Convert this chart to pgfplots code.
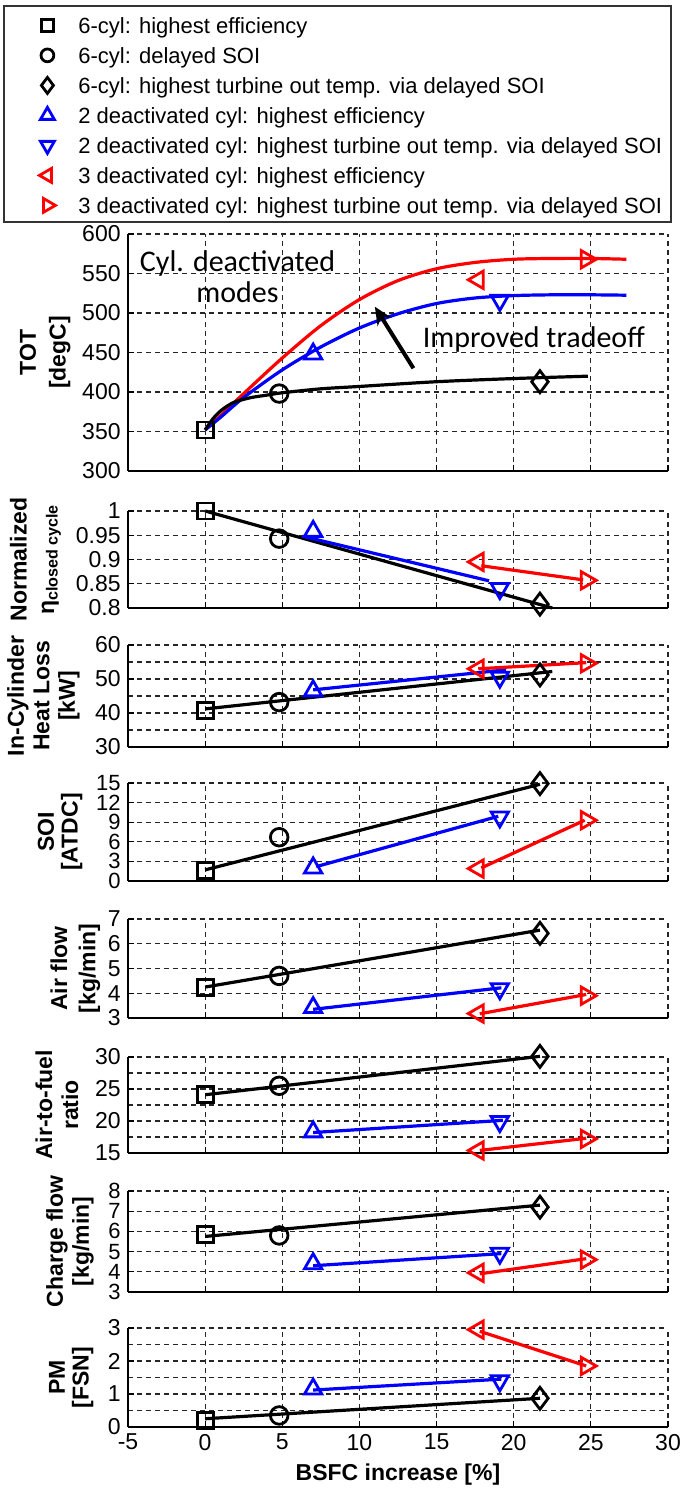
\documentclass[border=0pt]{standalone}
\usepackage{fontspec}
\setmainfont{Liberation Sans}
\newfontfamily\carlito{Carlito}
\usepackage{pgfplots}
\pgfplotsset{compat=1.18}
\usetikzlibrary{arrows.meta}

\newcommand{\legimg}[1]{\draw[#1] plot coordinates {(0pt,4pt)}; \path[draw=none,fill=none] (-6pt,0pt) rectangle (6pt,8pt);}

\pgfplotsset{
  panel/.style={
    scale only axis, width=270pt, anchor=south west,
    xmin=-5, xmax=30, xtick={-5,0,...,30},
    axis x line*=bottom, axis y line*=left,
    axis line style={line width=0.7pt, -, black},
    xmajorgrids, ymajorgrids, yminorgrids,
    major grid style={black!85, line width=0.6pt, dash pattern=on 2.5pt off 2pt},
    minor grid style={black!85, line width=0.6pt, dash pattern=on 2.5pt off 2pt},
    tick align=inside, major tick length=3pt, minor tick length=0pt,
    tick style={black, line width=0.6pt},
    tick label style={font=\fontsize{11.5}{12}\selectfont},
    yticklabel style={inner ysep=0pt, inner xsep=3.5pt},
    /pgf/number format/assume math mode=true,
    clip=false,
  },
  ylab/.style 2 args={every axis y label/.style={at={(axis description cs:#1,0.5)}, rotate=90, anchor=center, align=center, font=\bfseries\fontsize{11.5}{#2}\selectfont}},
  noxl/.style={xticklabels={}},
  sq/.style={only marks, black, mark=square, mark size=4pt, line width=1.4pt,
    legend image code/.code={\legimg{black,line width=1.4pt,mark=square,mark size=3.1pt}}},
  ci/.style={only marks, black, mark=o, mark size=4.4pt, line width=1.4pt,
    legend image code/.code={\legimg{black,line width=1.4pt,mark=o,mark size=3.2pt}}},
  di/.style={only marks, black, mark=diamond, mark size=5.5pt, line width=1.4pt,
    legend image code/.code={\legimg{black,line width=1.4pt,mark=diamond,mark size=4pt}}},
  up/.style={only marks, blue, mark=triangle, mark size=5pt, line width=1.4pt,
    legend image code/.code={\legimg{blue,line width=1.4pt,mark=triangle,mark size=4pt}}},
  dn/.style={only marks, blue, mark=triangle, mark size=5pt, line width=1.4pt, mark options={rotate=180},
    legend image code/.code={\legimg{blue,line width=1.4pt,mark=triangle,mark size=4pt,mark options={rotate=180}}}},
  lt/.style={only marks, red, mark=triangle, mark size=5pt, line width=1.4pt, mark options={rotate=90},
    legend image code/.code={\legimg{red,line width=1.4pt,mark=triangle,mark size=4pt,mark options={rotate=90}}}},
  rt/.style={only marks, red, mark=triangle, mark size=5pt, line width=1.4pt, mark options={rotate=-90},
    legend image code/.code={\legimg{red,line width=1.4pt,mark=triangle,mark size=4pt,mark options={rotate=-90}}}},
  ln/.style={no marks, line width=1.6pt, forget plot},
}

\begin{document}
\begin{tikzpicture}
\useasboundingbox (0,0) rectangle (343pt,745.5pt);
\draw[line width=0.6pt, black!80] (2pt,634.5pt) rectangle (335.5pt,742.5pt);

% ---------------- TOT ----------------
\begin{axis}[panel, noxl, at={(64pt,510pt)}, height=118.5pt,
  ymin=300, ymax=600, ytick={300,350,...,600},
  ylab={-0.1534}{14.85},
  ylabel={TOT\\{}[degC]},
  legend cell align=left,
  legend style={at={(axis description cs:-0.1722,1.9325)}, anchor=north west, draw=none, fill=none,
    inner sep=0pt, row sep=0pt, column sep=9.5pt,
    cells={anchor=base west},
    nodes={inner sep=0pt, text height=10pt, text depth=5pt, font=\fontsize{11}{13}\selectfont}},
]
\addplot[ln, red, smooth] coordinates {(0,352) (1,370) (2.5,398) (5,443) (7.5,484) (10,517) (12.5,541) (15,556) (17.5,564) (20,568) (22.5,569) (25,569) (27.3,568)};
\addplot[ln, blue, smooth] coordinates {(0,352) (1,368) (2.5,393) (5,428) (7.5,457) (10,481) (12.5,499) (15,512) (17.5,519) (20,522) (22.5,523) (25,523) (27.3,522.5)};
\addplot[ln, black, smooth] coordinates {(0,352) (0.5,366) (1,376) (1.5,383) (2,388) (3,393) (4,396) (5,399) (7.5,404) (10,407) (15,413) (20,417) (24.8,420)};
\addplot[sq] coordinates {(0,352)};
\addlegendentry{6-cyl: highest efficiency}
\addplot[ci] coordinates {(4.8,398)};
\addlegendentry{6-cyl: delayed SOI}
\addplot[di] coordinates {(21.7,413)};
\addlegendentry{6-cyl: highest turbine out temp. via delayed SOI}
\addplot[up] coordinates {(7,448)};
\addlegendentry{2 deactivated cyl: highest efficiency}
\addplot[dn] coordinates {(19.1,516)};
\addlegendentry{2 deactivated cyl: highest turbine out temp. via delayed SOI}
\addplot[lt] coordinates {(17.7,542)};
\addlegendentry{3 deactivated cyl: highest efficiency}
\addplot[rt] coordinates {(24.7,568)};
\addlegendentry{3 deactivated cyl: highest turbine out temp. via delayed SOI}
\node[font=\carlito\fontsize{15}{15.6}\selectfont, align=center] at (axis cs:2.1,546) {Cyl. deactivated\\modes};
\node[font=\carlito\fontsize{15}{16.4}\selectfont] at (axis cs:21.3,466) {Improved tradeoff};
\draw[-{Stealth[length=9pt,width=8pt]}, line width=2pt] (axis cs:13.5,430) -- (axis cs:11.0,508);
\end{axis}

% ---------------- eta ----------------
\begin{axis}[panel, noxl, at={(64pt,441.5pt)}, height=48.5pt,
  ymin=0.8, ymax=1, ytick={0.8,0.85,0.9,0.95,1},
  ylab={-0.1714}{13.75},
  ylabel={Normalized\\η\textsubscript{closed cycle}},
]
\addplot[ln, black] coordinates {(0,1.0) (22.5,0.80)};
\addplot[ln, blue] coordinates {(6.3,0.948) (18.4,0.856)};
\addplot[ln, red] coordinates {(17.9,0.887) (24.5,0.858)};
\addplot[sq] coordinates {(0,1.0)};
\addplot[ci] coordinates {(4.8,0.943)};
\addplot[di] coordinates {(21.7,0.808)};
\addplot[up] coordinates {(7,0.958)};
\addplot[dn] coordinates {(19.1,0.840)};
\addplot[lt] coordinates {(17.7,0.895)};
\addplot[rt] coordinates {(24.7,0.857)};
\end{axis}

% ---------------- heat loss ----------------
\begin{axis}[panel, noxl, at={(64pt,372pt)}, height=51pt,
  ymin=30, ymax=60, ytick={30,40,50,60}, minor ytick={35,45,55},
  ylab={-0.1567}{12.75},
  ylabel={In-Cylinder\\Heat Loss\\{}[kW]},
]
\addplot[ln, black] coordinates {(0,41.2) (22.5,52.2)};
\addplot[ln, blue] coordinates {(7,46.8) (19.5,52.7)};
\addplot[ln, red] coordinates {(17.7,53.0) (24.7,54.8)};
\addplot[sq] coordinates {(0,40.7)};
\addplot[ci] coordinates {(4.8,43.2)};
\addplot[di] coordinates {(21.7,51.2)};
\addplot[up] coordinates {(7,46.5)};
\addplot[dn] coordinates {(19.1,50.5)};
\addplot[lt] coordinates {(17.7,53.0)};
\addplot[rt] coordinates {(24.7,54.6)};
\end{axis}

% ---------------- SOI ----------------
\begin{axis}[panel, noxl, at={(64pt,305pt)}, height=49pt,
  ymin=0, ymax=15, ytick={0,3,...,15},
  yticklabel style={font=\fontsize{11}{12}\selectfont},
  ylab={-0.1256}{11.85},
  ylabel={SOI\\{}[ATDC]},
]
\addplot[ln, black] coordinates {(0,1.7) (21.7,14.8)};
\addplot[ln, blue] coordinates {(7.2,2.2) (19,9.9)};
\addplot[ln, red] coordinates {(17.9,2.0) (24.6,9.3)};
\addplot[sq] coordinates {(0,1.6)};
\addplot[ci] coordinates {(4.8,6.7)};
\addplot[di] coordinates {(21.7,14.9)};
\addplot[up] coordinates {(7,2.0)};
\addplot[dn] coordinates {(19.1,9.8)};
\addplot[lt] coordinates {(17.7,1.9)};
\addplot[rt] coordinates {(24.7,9.3)};
\end{axis}

% ---------------- Air flow ----------------
\begin{axis}[panel, noxl, at={(64pt,236.5pt)}, height=49.5pt,
  ymin=3, ymax=7, ytick={3,4,...,7},
  ylab={-0.0974}{14.1},
  ylabel={Air flow\\{}[kg/min]},
]
\addplot[ln, black] coordinates {(0,4.25) (21.7,6.55)};
\addplot[ln, blue] coordinates {(7,3.35) (19.2,4.22)};
\addplot[ln, red] coordinates {(17.8,3.17) (24.7,3.95)};
\addplot[sq] coordinates {(0,4.22)};
\addplot[ci] coordinates {(4.8,4.7)};
\addplot[di] coordinates {(21.7,6.42)};
\addplot[up] coordinates {(7,3.42)};
\addplot[dn] coordinates {(19.1,4.18)};
\addplot[lt] coordinates {(17.7,3.18)};
\addplot[rt] coordinates {(24.7,3.9)};
\end{axis}

% ---------------- AFR ----------------
\begin{axis}[panel, noxl, at={(64pt,169pt)}, height=48pt,
  ymin=15, ymax=30, ytick={15,20,25,30}, minor ytick={17.5,22.5,27.5},
  ylab={-0.1315}{13},
  ylabel={Air-to-fuel\\ratio},
]
\addplot[ln, black] coordinates {(0,24.1) (21.7,30.1)};
\addplot[ln, blue] coordinates {(7,18.2) (19.3,20.1)};
\addplot[ln, red] coordinates {(17.8,15.4) (24.7,17.3)};
\addplot[sq] coordinates {(0,24.1)};
\addplot[ci] coordinates {(4.8,25.5)};
\addplot[di] coordinates {(21.7,30.1)};
\addplot[up] coordinates {(7,18.3)};
\addplot[dn] coordinates {(19.1,19.9)};
\addplot[lt] coordinates {(17.7,15.4)};
\addplot[rt] coordinates {(24.7,17.2)};
\end{axis}

% ---------------- Charge flow ----------------
\begin{axis}[panel, noxl, at={(64pt,99.5pt)}, height=50.5pt,
  ymin=3, ymax=8, ytick={3,4,...,8},
  yticklabel style={font=\fontsize{11}{12}\selectfont},
  ylab={-0.1074}{13},
  ylabel={Charge flow\\{}[kg/min]},
]
\addplot[ln, black] coordinates {(0,5.75) (21.7,7.3)};
\addplot[ln, blue] coordinates {(7,4.3) (19.2,4.9)};
\addplot[ln, red] coordinates {(17.8,3.9) (24.7,4.65)};
\addplot[sq] coordinates {(0,5.85)};
\addplot[ci] coordinates {(4.8,5.8)};
\addplot[di] coordinates {(21.7,7.2)};
\addplot[up] coordinates {(7,4.4)};
\addplot[dn] coordinates {(19.1,4.92)};
\addplot[lt] coordinates {(17.7,3.95)};
\addplot[rt] coordinates {(24.7,4.6)};
\end{axis}

% ---------------- PM ----------------
\begin{axis}[panel, at={(64pt,32pt)}, height=49.5pt,
  ymin=0, ymax=3, ytick={0,1,2,3}, minor ytick={0.5,1.5,2.5},
  ylab={-0.1053}{11.85},
  ylabel={PM\\{}[FSN]},
  xlabel={BSFC increase [\%]},
  xlabel style={font=\bfseries\fontsize{11.5}{13}\selectfont},
]
\addplot[ln, black] coordinates {(0,0.25) (21.7,0.87)};
\addplot[ln, blue] coordinates {(7,1.12) (19.2,1.45)};
\addplot[ln, red] coordinates {(17.8,2.9) (24.7,1.85)};
\addplot[sq] coordinates {(0,0.2)};
\addplot[ci] coordinates {(4.8,0.35)};
\addplot[di] coordinates {(21.7,0.87)};
\addplot[up] coordinates {(7,1.15)};
\addplot[dn] coordinates {(19.1,1.4)};
\addplot[lt] coordinates {(17.7,2.95)};
\addplot[rt] coordinates {(24.7,1.85)};
\end{axis}
\end{tikzpicture}
\end{document}
